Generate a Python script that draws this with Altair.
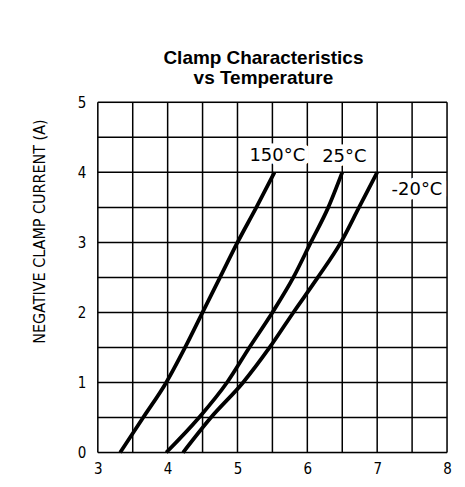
import altair as alt
import pandas as pd

# Curve data (voltage V, current A)
v_150 = [3.32, 3.65, 3.98, 4.25, 4.50, 4.75, 5.00, 5.27, 5.53]
i_150 = [0.0, 0.5, 1.0, 1.5, 2.0, 2.5, 3.0, 3.5, 4.0]
v_25 = [3.98, 4.45, 4.85, 5.17, 5.50, 5.80, 6.05, 6.30, 6.50]
i_25 = [0.0, 0.5, 1.0, 1.5, 2.0, 2.5, 3.0, 3.5, 4.0]
v_m20 = [4.22, 4.62, 5.08, 5.46, 5.80, 6.15, 6.48, 6.74, 7.00]
i_m20 = [0.0, 0.5, 1.0, 1.5, 2.0, 2.5, 3.0, 3.5, 4.0]

label_text = ["150°C", "25°C", "-20°C"]
label_x = [5.57, 6.53, 7.57]
label_y = [4.24, 4.22, 3.75]

x_labels = [3, 4, 5, 6, 7, 8]
y_labels = [0, 1, 2, 3, 4, 5]
x_grid = [3 + 0.5 * k for k in range(11)]
y_grid = [0.5 * k for k in range(11)]

rows = []
for name, vs, cs in [("150", v_150, i_150), ("25", v_25, i_25), ("-20", v_m20, i_m20)]:
    for o, (v, c) in enumerate(zip(vs, cs)):
        rows.append({"series": name, "v": v, "i": c, "o": o})
df = pd.DataFrame(rows)
lab = pd.DataFrame({"t": label_text, "x": label_x, "y": label_y})
gx = pd.DataFrame({"g": x_grid})
gy = pd.DataFrame({"g": y_grid})

FONT = "DejaVu Sans Condensed, DejaVu Sans"

xs = alt.Scale(domain=[3, 8], nice=False, zero=False)
ys = alt.Scale(domain=[0, 5], nice=False)

xaxis = alt.Axis(values=x_labels, format="d", grid=False,
                 ticks=False, domain=False, labelFont=FONT, labelFontSize=15,
                 labelColor="black", labelPadding=9, title=None, labelFlush=False)
yaxis = alt.Axis(values=y_labels, format="d", grid=False,
                 ticks=False, domain=False, labelFont=FONT, labelFontSize=15,
                 labelColor="black", labelPadding=12, title="NEGATIVE CLAMP CURRENT (A)",
                 titleFont=FONT, titleFontSize=16, titleFontWeight="normal",
                 titleColor="black", titleX=-50, titleY=129, titleBaseline="bottom",
                 labelFlush=False)

vgrid = alt.Chart(gx).mark_rule(color="black", strokeWidth=1.5).encode(
    x=alt.X("g:Q", scale=xs, axis=xaxis))
hgrid = alt.Chart(gy).mark_rule(color="black", strokeWidth=1.5).encode(
    y=alt.Y("g:Q", scale=ys, axis=yaxis))

lines = alt.Chart(df).mark_line(color="black", strokeWidth=3.8, strokeCap="butt",
                                interpolate="monotone").encode(
    x=alt.X("v:Q", scale=xs),
    y=alt.Y("i:Q", scale=ys),
    detail="series:N",
    order="o:Q",
)

halo = alt.Chart(lab).mark_text(font="DejaVu Sans", fontSize=18, color="white",
                                stroke="white", strokeWidth=9, strokeJoin="miter").encode(
    x=alt.X("x:Q", scale=xs),
    y=alt.Y("y:Q", scale=ys),
    text="t:N",
)
texts = alt.Chart(lab).mark_text(font="DejaVu Sans", fontSize=18, color="black").encode(
    x=alt.X("x:Q", scale=xs),
    y=alt.Y("y:Q", scale=ys),
    text="t:N",
)

chart = (vgrid + hgrid + lines + halo + texts).properties(
    width=350, height=351,
    title=alt.TitleParams(["Clamp Characteristics", "vs Temperature"],
                          font="Liberation Sans", fontSize=19, fontWeight="bold",
                          color="black", offset=7, lineHeight=20, dx=-9),
    autosize=alt.AutoSizeParams(type="none"),
    padding={"left": 90, "top": 94, "right": 10, "bottom": 30},
).configure_view(stroke="black", strokeWidth=2.5).configure(background="white")

chart.save("out.html", embed_options={"renderer": "svg", "actions": False})
